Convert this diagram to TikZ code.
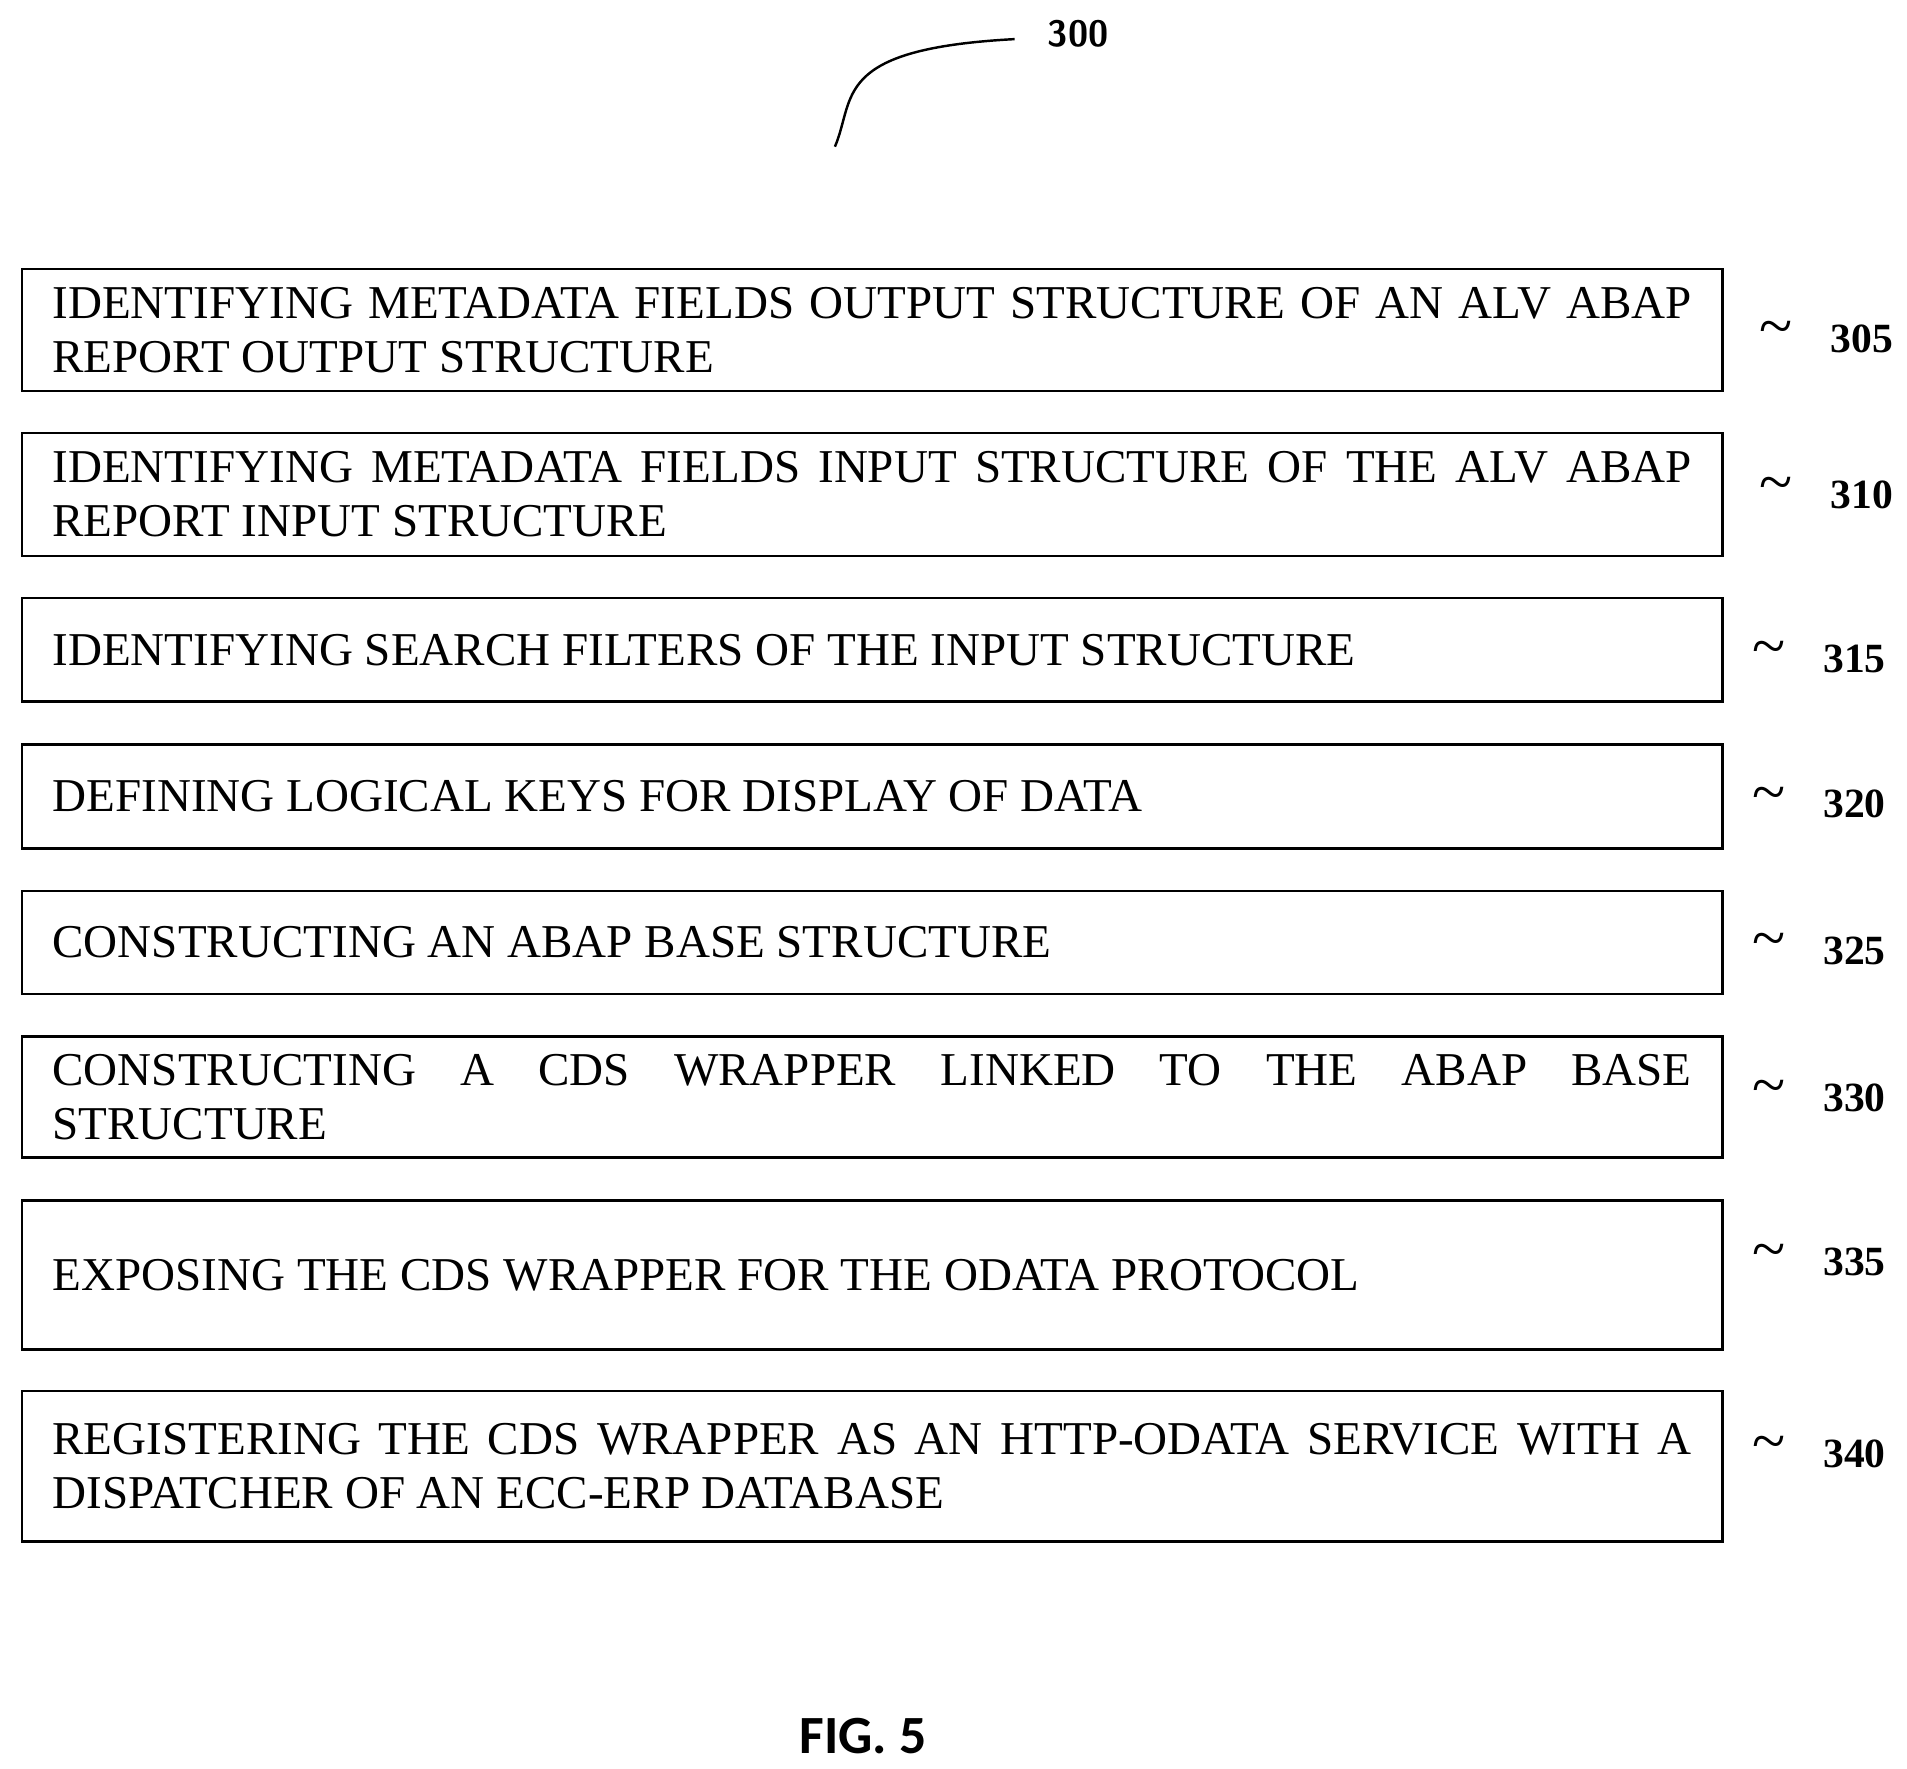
\documentclass[tikz,border=0pt]{standalone}
\usepackage{fontspec}
\setmainfont{Liberation Serif}
\newfontfamily\figfont{Carlito}
\begin{document}
\begin{tikzpicture}[x=1pt,y=-1pt,
 box/.style={draw,line width=2pt,minimum width=1391pt,text width=1341pt,align=justify,inner sep=0pt,font=\fontsize{38.5}{44}\selectfont},
 lab/.style={font=\fontsize{34}{40}\selectfont\bfseries}]
\useasboundingbox (0,0) rectangle (1560,1447);
\def\B#1#2#3#4{\node[box,minimum height=#3-#2-2] (#1) at (713.5,{(#2+#3)/2-1}) {#4};}
\B{b305}{220}{322}{IDENTIFYING METADATA FIELDS OUTPUT STRUCTURE OF AN ALV ABAP\linebreak REPORT OUTPUT STRUCTURE}
\B{b310}{354}{457}{IDENTIFYING METADATA FIELDS INPUT STRUCTURE OF THE ALV ABAP\linebreak REPORT INPUT STRUCTURE}
\B{b315}{489}{576}{IDENTIFYING SEARCH FILTERS OF THE INPUT STRUCTURE}
\B{b320}{609}{696}{DEFINING LOGICAL KEYS FOR DISPLAY OF DATA}
\B{b325}{729}{815}{CONSTRUCTING AN ABAP BASE STRUCTURE}
\B{b330}{848}{949}{CONSTRUCTING A CDS WRAPPER LINKED TO THE ABAP BASE\linebreak STRUCTURE}
\B{b335}{982}{1106}{EXPOSING THE CDS WRAPPER FOR THE ODATA PROTOCOL}
\B{b340}{1138}{1263}{REGISTERING THE CDS WRAPPER AS AN HTTP-ODATA SERVICE WITH A\linebreak DISPATCHER OF AN ECC-ERP DATABASE}
\def\L#1#2#3{\node[lab] (l#1) at (#2,#3) {#1}; \node[font=\fontsize{50}{50}\selectfont] (t#1) at ({#2-70},{#3-4}) {\string~};}
\L{305}{1523}{277}
\L{310}{1523}{405}
\L{315}{1517}{539}
\L{320}{1517}{658}
\L{325}{1517}{778}
\L{330}{1517}{898}
\L{335}{1517}{1032}
\L{340}{1517}{1189}
\node[font=\fontsize{30}{36}\selectfont\sffamily\bfseries] (l300) at (882,28) {300};
\coordinate (c1) at (683,120);
\coordinate (c2) at (830,32);
\draw[line width=2pt] (c1) .. controls (700,80) and (680,40) .. (c2);
\node[font=\fontsize{44}{48}\selectfont\figfont\bfseries] (fig) at (706,1420) {FIG. 5};
\end{tikzpicture}
\end{document}
